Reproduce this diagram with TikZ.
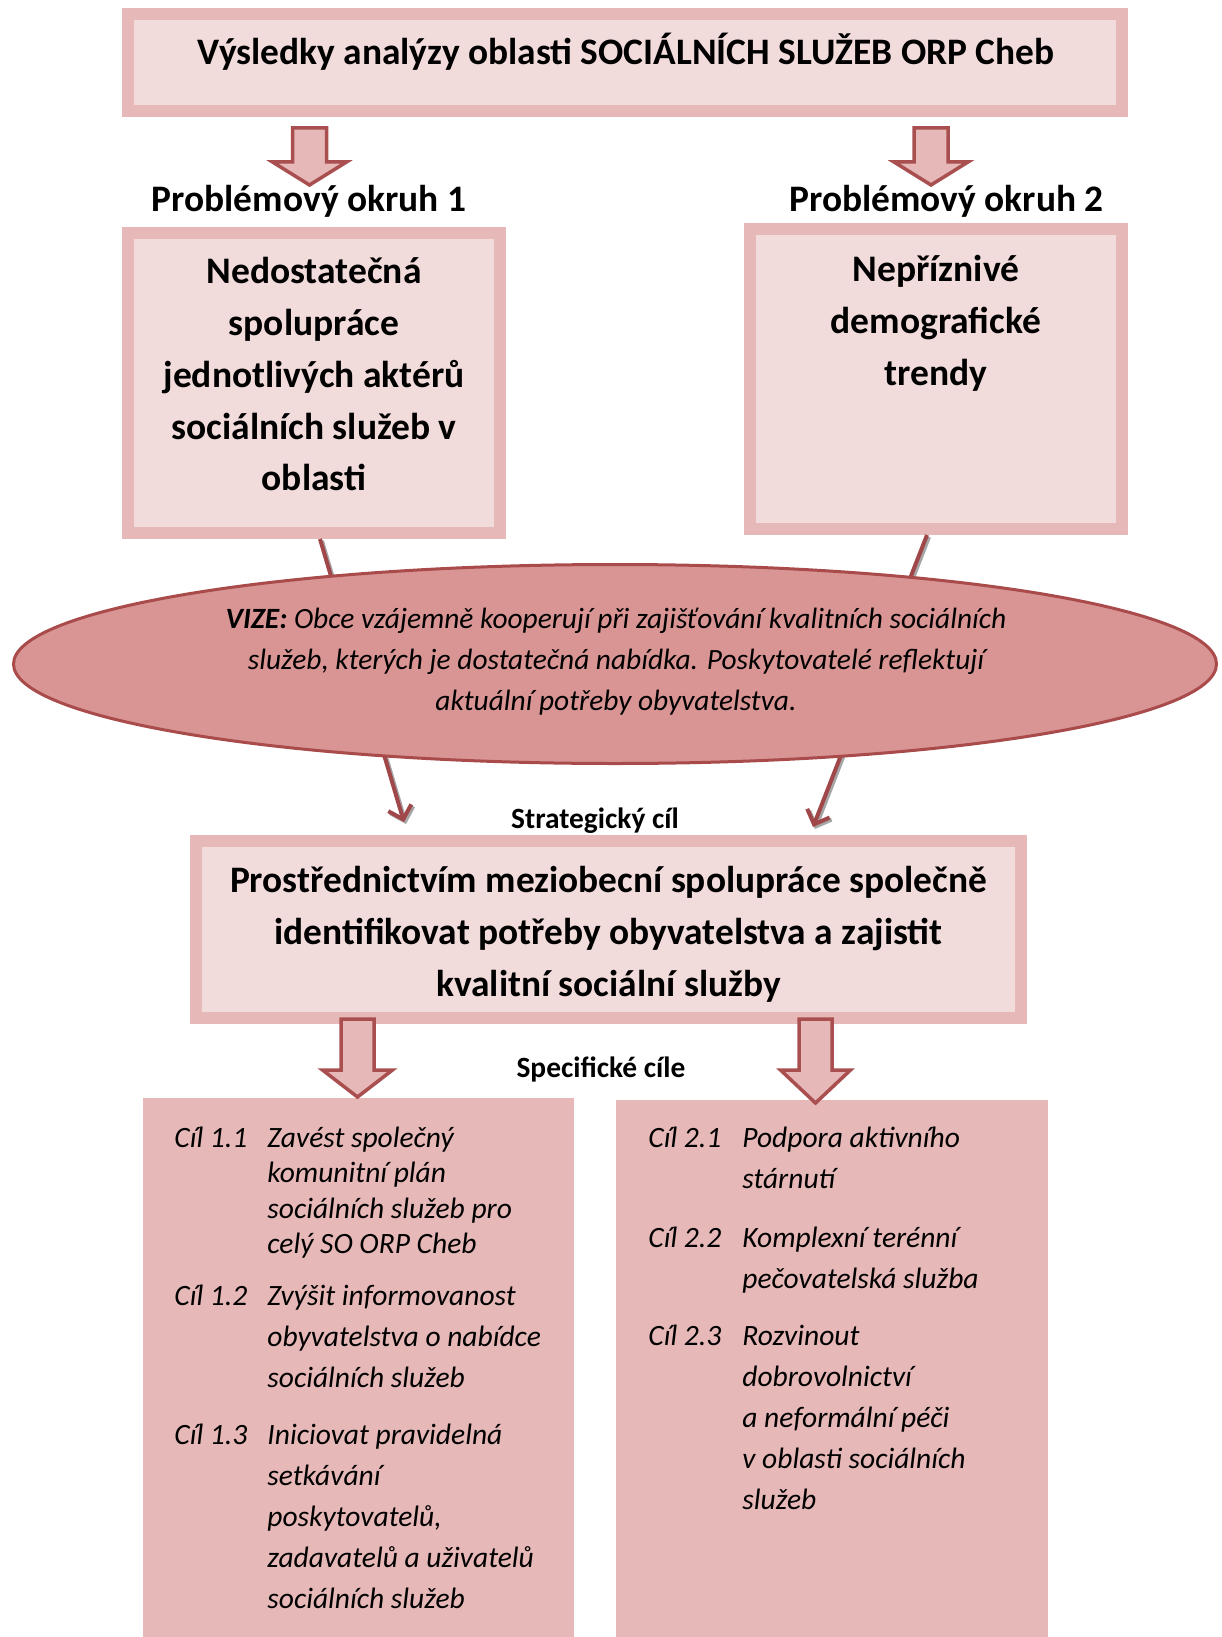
\documentclass[tikz,border=0pt]{standalone}
\usepackage{fontspec}
\setmainfont{Carlito}
\usetikzlibrary{shapes.geometric,arrows.meta}
\definecolor{band}{HTML}{E6B8B7}
\definecolor{innerc}{HTML}{F2DCDB}
\definecolor{ellfill}{HTML}{D99594}
\definecolor{ellline}{HTML}{A94B4B}
\definecolor{arrline}{HTML}{A94F4F}
\definecolor{connc}{HTML}{A0474A}
\newcommand{\myblockarrow}[6]{% cx, top, shaft half, head base, head half, tip
  \draw[blockarr] (#1-#3,#2) -- (#1+#3,#2) -- (#1+#3,#4) -- (#1+#5,#4) -- (#1,#6) -- (#1-#5,#4) -- (#1-#3,#4) -- cycle;}
\begin{document}
\begin{tikzpicture}[x=0.5pt,y=-0.5pt,
  framebox/.style={rectangle, draw=band, line width=6pt, fill=innerc, inner sep=0pt},
  goalbox/.style={rectangle, fill=band, inner sep=0pt},
  blockarr/.style={draw=arrline, line width=1.75pt, fill=band, line join=miter},
  conn/.style={draw=connc, line width=2pt, -{Straight Barb[length=6pt,width=12pt,line width=2pt]}},
  connshadow/.style={draw=black!35, line width=2pt, -{Straight Barb[length=6pt,width=12pt,line width=2pt]}},
  bigtxt/.style={font=\fontsize{18.75}{26}\selectfont\bfseries, inner sep=0pt, align=flush center, anchor=base},
  headtxt/.style={font=\fontsize{18.7}{22}\selectfont\bfseries, inner sep=0pt, anchor=base},
  smalltxt/.style={font=\fontsize{14.7}{18}\selectfont\bfseries, inner sep=0pt, anchor=base},
  itemlab/.style={font=\fontsize{14.75}{20.5}\selectfont\itshape, inner sep=0pt, anchor=base west},
  itemtxt/.style={font=\fontsize{14.75}{20.5}\selectfont\itshape, inner sep=0pt, anchor=base west, text width=170pt, align=flush left},
]
\useasboundingbox (0,0) rectangle (1221,1637);
\fill[white] (0,0) rectangle (1221,1637);

% top box
\node[framebox, minimum width=497pt, minimum height=48.5pt] (top) at (625,62.5) {};
\node[headtxt] (toptxt) at (626,65) {Výsledky analýzy oblasti SOCIÁLNÍCH SLUŽEB ORP Cheb};

% top block arrows
\myblockarrow{309.5}{128}{17}{162}{37}{185}
\myblockarrow{931}{128}{17}{162}{37}{185}

\node[headtxt] (p1) at (309,212) {Problémový okruh 1};
\node[headtxt] (p2) at (946.5,212) {Problémový okruh 2};

% problem boxes
\node[framebox, minimum width=186pt, minimum height=150pt] (b1) at (314,383) {};
\node[framebox, minimum width=186pt, minimum height=150pt] (b2) at (936,379) {};
\node[bigtxt, text width=180pt] (b1t) at (314,283) {Nedostatečná\\spolupráce\\jednotlivých aktérů\\sociálních služeb v\\oblasti};
\node[bigtxt, text width=180pt] (b2t) at (936,281) {Nepříznivé\\demografické\\trendy};

% strategic box
\node[framebox, minimum width=412.5pt, minimum height=88.5pt] (sc) at (608.5,929.5) {};
\node[bigtxt, font=\fontsize{18.7}{26}\selectfont\bfseries, text width=410pt] (sct) at (608.5,892) {Prostřednictvím meziobecní spolupráce společně\\identifikovat potřeby obyvatelstva a zajistit\\kvalitní sociální služby};

% connectors (behind ellipse)
\coordinate (t1) at (404,822);
\coordinate (t2) at (813,827);
\draw[connshadow] ([xshift=4pt,yshift=-1pt]b1.south) -- ([xshift=1pt,yshift=-1pt]t1);
\draw[connshadow] ([xshift=-3.5pt,yshift=-1pt]b2.south) -- ([xshift=1pt,yshift=-1pt]t2);
\draw[conn] ([xshift=3pt]b1.south) -- (t1);
\draw[conn] ([xshift=-4.5pt]b2.south) -- (t2);

% vision ellipse
\node[ellipse, draw=ellline, line width=1.5pt, fill=ellfill, minimum width=601.5pt, minimum height=99.5pt, inner sep=0pt] (vis) at (615,664) {};
\node[font=\fontsize{14.7}{20.5}\selectfont\itshape, inner sep=0pt, anchor=base, align=flush center, text width=570pt] (vist) at (616,628) {\textbf{VIZE:} Obce vzájemně kooperují při zajišťování kvalitních sociálních\\služeb, kterých je dostatečná nabídka. Poskytovatelé reflektují\\aktuální potřeby obyvatelstva.};

\node[smalltxt] (stl) at (595,828) {Strategický cíl};
\node[smalltxt] (spl) at (601,1077) {Specifické cíle};

% goal boxes
\node[goalbox, minimum width=215.5pt, minimum height=271pt] (g1) at (358.5,1369) {};
\node[goalbox, minimum width=216pt, minimum height=270pt] (g2) at (832,1370) {};

% lower block arrows
\myblockarrow{357.5}{1019}{16.5}{1070}{35}{1097}
\myblockarrow{815.5}{1019}{16.5}{1070}{35}{1103}

% goal items left
\node[itemlab] (l11) at (174,1147) {Cíl 1.1};
\node[itemtxt, font=\fontsize{14.75}{17.75}\selectfont\itshape] (t11) at (267,1147) {Zavést společný\\komunitní plán\\sociálních služeb pro\\celý SO ORP Cheb};
\node[itemlab] (l12) at (174,1305) {Cíl 1.2};
\node[itemtxt] (t12) at (267,1305) {Zvýšit informovanost\\obyvatelstva o nabídce\\sociálních služeb};
\node[itemlab] (l13) at (174,1444) {Cíl 1.3};
\node[itemtxt] (t13) at (267,1444) {Iniciovat pravidelná\\setkávání\\poskytovatelů,\\zadavatelů a uživatelů\\sociálních služeb};

% goal items right
\node[itemlab] (l21) at (648,1147) {Cíl 2.1};
\node[itemtxt] (t21) at (742,1147) {Podpora aktivního\\stárnutí};
\node[itemlab] (l22) at (648,1247) {Cíl 2.2};
\node[itemtxt] (t22) at (742,1247) {Komplexní terénní\\pečovatelská služba};
\node[itemlab] (l23) at (648,1345) {Cíl 2.3};
\node[itemtxt] (t23) at (742,1345) {Rozvinout\\dobrovolnictví\\a neformální péči\\v oblasti sociálních\\služeb};
\end{tikzpicture}
\end{document}
